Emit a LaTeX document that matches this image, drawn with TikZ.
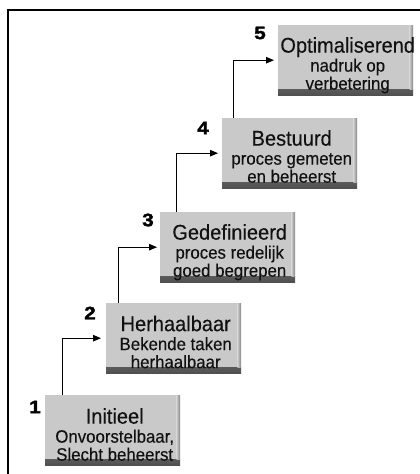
\documentclass[tikz,border=0pt]{standalone}
\usepackage{fontspec}
\setmainfont{Liberation Sans}[FakeStretch=0.94,FakeBold=0.3]
\newfontfamily\numfont{Liberation Sans Bold}[FakeStretch=1.15,FakeBold=2]
\usetikzlibrary{arrows.meta}
\definecolor{boxgray}{HTML}{C9C9C9}
\definecolor{boxdark}{HTML}{505050}
\definecolor{inkcol}{HTML}{111111}
\newcommand\stagetitle{\fontsize{21.3}{21}\selectfont\rule{0pt}{15pt}}
\newcommand\stageend{\rule[-5pt]{0pt}{5pt}}
\begin{document}
\begin{tikzpicture}[x=1pt,y=-1pt,
  stage/.style={rectangle, minimum width=135pt, minimum height=70pt, inner sep=0pt,
    anchor=north west, fill=boxgray,
    path picture={
      \shade[top color=boxgray, bottom color=boxdark]
        ([yshift=6pt]path picture bounding box.south west) rectangle (path picture bounding box.south east);
      \shade[left color=boxgray, right color=boxdark!60!boxgray]
        ([xshift=-3.5pt]path picture bounding box.north east) rectangle ([yshift=6pt]path picture bounding box.south east);
    }},
  txt/.style={align=center, font=\fontsize{17.9}{18}\selectfont, inner sep=0pt, text=inkcol, anchor=north},
  num/.style={font=\numfont\fontsize{18}{18}\selectfont, inner sep=0pt},
  conn/.style={-{Triangle[length=8pt,width=6.5pt]}, line width=1pt}
]
\useasboundingbox (0,0) rectangle (420,474);
\draw[line width=1.8pt] (8,474) -- (8,10) -- (420,10);

\node[stage] (b1) at (45,395) {};
\node[stage] (b2) at (106,303) {};
\node[stage] (b3) at (160,212) {};
\node[stage] (b4) at (222,118) {};
\node[stage] (b5) at (278,25) {};

\node[txt] (t1) at ([xshift=2pt,yshift=-13pt]b1.north) {{\stagetitle Initieel}\\[1pt]Onvoorstelbaar,\\Slecht beheerst\stageend};
\node[txt] (t2) at ([xshift=2pt,yshift=-12.5pt]b2.north) {{\stagetitle Herhaalbaar}\\[1pt]Bekende taken\\herhaalbaar\stageend};
\node[txt] (t3) at ([xshift=2pt,yshift=-12pt]b3.north) {{\stagetitle Gedefinieerd}\\[1pt]proces redelijk\\goed begrepen\stageend};
\node[txt] (t4) at ([xshift=2pt,yshift=-12pt]b4.north) {{\stagetitle Bestuurd}\\[1pt]proces gemeten\\en beheerst\stageend};
\node[txt] (t5) at ([xshift=2pt,yshift=-12pt]b5.north) {{\stagetitle Optimaliserend}\\[1pt]nadruk op\\verbetering\stageend};

\node[num] (n1) at ([xshift=-10pt,yshift=-12pt]b1.north west) {1};
\node[num] (n2) at ([xshift=-16pt,yshift=-10pt]b2.north west) {2};
\node[num] (n3) at ([xshift=-12pt,yshift=-8pt]b3.north west) {3};
\node[num] (n4) at ([xshift=-19pt,yshift=-10pt]b4.north west) {4};
\node[num] (n5) at ([xshift=-18pt,yshift=-8pt]b5.north west) {5};

\draw[conn] ([xshift=17pt]b1.north west) |- ([xshift=-5pt]b2.west);
\draw[conn] ([xshift=12pt]b2.north west) |- ([xshift=-3pt]b3.west);
\draw[conn] ([xshift=16pt]b3.north west) |- ([xshift=-4pt]b4.west);
\draw[conn] ([xshift=11pt]b4.north west) |- ([xshift=-4pt]b5.west);
\end{tikzpicture}
\end{document}
